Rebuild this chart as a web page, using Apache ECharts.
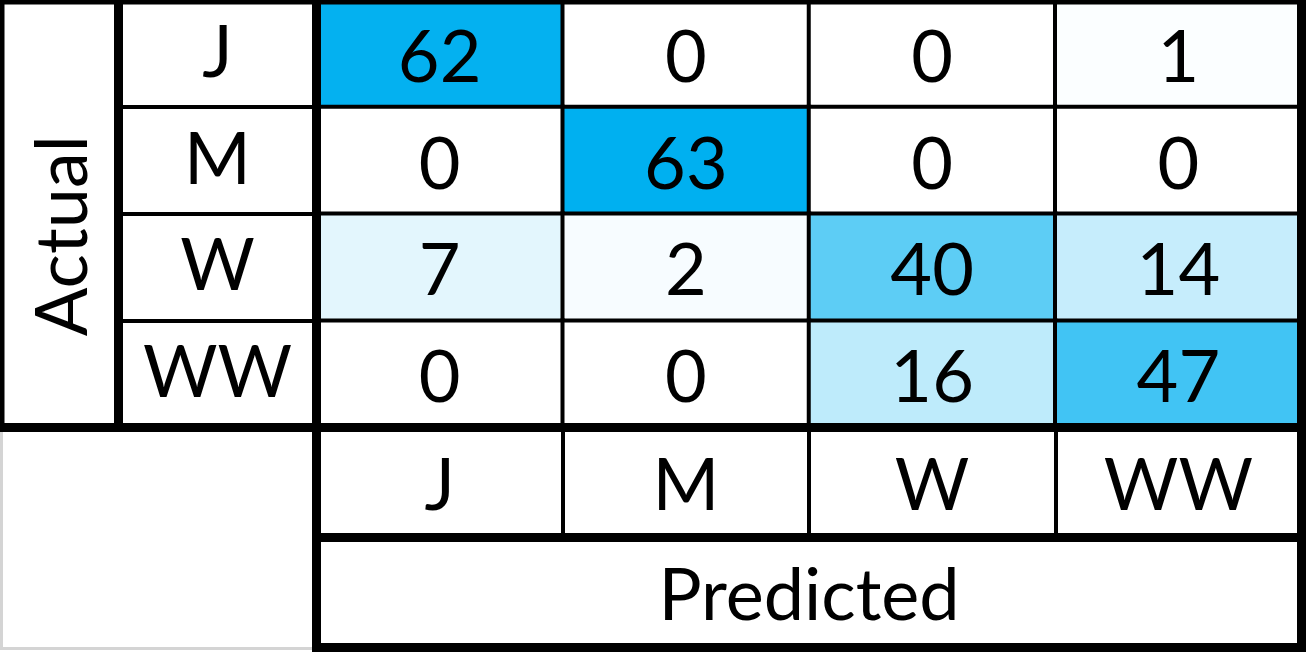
<!DOCTYPE html>
<html>
<head>
<meta charset="utf-8">
<title>Confusion matrix</title>
<script src="https://cdn.jsdelivr.net/npm/echarts@6/dist/echarts.min.js"></script>
<style>
html, body { margin: 0; padding: 0; background: #fff; }
#chart { width: 1306px; height: 653px; }
</style>
</head>
<body>
<div id="chart"></div>
<script>
// data
var actualClasses = ['J', 'M', 'W', 'WW'];
var predictedClasses = ['J', 'M', 'W', 'WW'];
var counts = [
    [62, 0, 0, 1],
    [0, 63, 0, 0],
    [7, 2, 40, 14],
    [0, 0, 16, 47]
];
var actualTitle = 'Actual';
var predictedTitle = 'Predicted';

// [predicted index, actual index, count]
var cells = [];
for (var r = 0; r < counts.length; r++) {
    for (var c = 0; c < counts[r].length; c++) {
        cells.push([c, r, counts[r][c]]);
    }
}

var FONT = 'Lato';
var BIG = 72;

function boxGrid(left, top, width, height, color, bw, z) {
    return {
        show: true, left: left, top: top, width: width, height: height,
        backgroundColor: 'transparent', borderColor: color, borderWidth: bw,
        z: z, outerBoundsMode: 'none'
    };
}
function hiddenAxis(idx) {
    return { gridIndex: idx, type: 'category', data: [''], show: false };
}
function textStyle() {
    return { fontFamily: FONT, fontSize: BIG, color: '#000' };
}

var chart = echarts.init(document.getElementById('chart'), null, { renderer: 'canvas' });

var option = {
    animation: false,
    backgroundColor: '#fff',
    grid: [
        boxGrid(316.5, 0, 985, 427.5, '#000', 9, 5),   // counts
        boxGrid(0, 0, 118.5, 427.5, '#000', 9, 5),     // "Actual"
        boxGrid(118.5, 0, 198, 427.5, '#000', 9, 5),   // row labels
        boxGrid(316.5, 427.5, 985, 110, '#000', 9, 5), // column labels
        boxGrid(316.5, 537.5, 985, 110, '#000', 9, 5), // "Predicted"
        boxGrid(1.5, 427.5, 315, 221, '#d4d4d4', 3, 1) // empty corner
    ],
    xAxis: [
        {
            gridIndex: 0, type: 'category', data: predictedClasses, position: 'bottom',
            axisLine: { show: false }, axisTick: { show: false }, splitLine: { show: false },
            axisLabel: Object.assign({ interval: 0, margin: 59, verticalAlign: 'middle' }, textStyle()),
            name: predictedTitle, nameLocation: 'middle', nameGap: 169,
            nameTextStyle: Object.assign({ verticalAlign: 'middle' }, textStyle())
        },
        hiddenAxis(1),
        hiddenAxis(2),
        {
            gridIndex: 3, type: 'category', data: predictedClasses,
            axisLine: { show: false }, axisTick: { show: false }, axisLabel: { show: false },
            splitLine: { show: true, interval: 0, lineStyle: { color: '#000', width: 4 } }
        },
        hiddenAxis(4),
        hiddenAxis(5)
    ],
    yAxis: [
        {
            gridIndex: 0, type: 'category', data: actualClasses, inverse: true,
            axisLine: { show: false }, axisTick: { show: false }, splitLine: { show: false },
            axisLabel: Object.assign({ interval: 0, margin: 99, align: 'center', padding: [10, 0, 0, 0] }, textStyle()),
            name: actualTitle, nameLocation: 'middle', nameRotate: 90, nameGap: 252.5,
            nameTextStyle: Object.assign({ verticalAlign: 'middle', padding: [0, 44, 0, 0] }, textStyle())
        },
        hiddenAxis(1),
        {
            gridIndex: 2, type: 'category', data: actualClasses, inverse: true,
            axisLine: { show: false }, axisTick: { show: false }, axisLabel: { show: false },
            splitLine: { show: true, interval: 0, lineStyle: { color: '#000', width: 4 } }
        },
        hiddenAxis(3),
        hiddenAxis(4),
        hiddenAxis(5)
    ],
    visualMap: {
        show: false, type: 'continuous', seriesIndex: 0,
        min: 0, max: 63,
        inRange: { color: ['#ffffff', '#00b0f0'] }
    },
    series: [{
        type: 'heatmap',
        xAxisIndex: 0, yAxisIndex: 0,
        data: cells,
        label: Object.assign({ show: true, offset: [0, 5] }, textStyle()),
        itemStyle: { borderColor: '#000', borderWidth: 4 },
        emphasis: { disabled: true }
    }]
};

chart.setOption(option);
</script>
</body>
</html>
